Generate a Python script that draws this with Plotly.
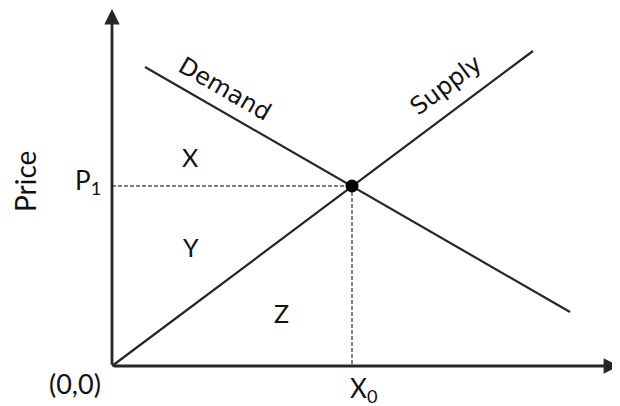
import plotly.graph_objs as go

# data units: 1 unit = 50 px in the target picture, origin at the axis corner
demand_x = [0.66, 9.16]
demand_y = [5.98, 1.08]
supply_x = [0.0, 8.42]
supply_y = [0.0, 6.30]
eq_x = 4.80
eq_y = 3.60
x_range = [-2.08, 10.16]
y_range = [-0.80, 7.16]

region_labels = ["X", "Y", "Z"]
region_x = [1.56, 1.58, 3.38]
region_y = [4.18, 2.38, 1.06]

ink = "#262626"
font_main = "Lato"

fig = go.Figure()

fig.add_trace(go.Scatter(x=demand_x, y=demand_y, mode="lines",
                         line=dict(color=ink, width=2.2)))
fig.add_trace(go.Scatter(x=supply_x, y=supply_y, mode="lines",
                         line=dict(color=ink, width=2.2)))

# dashed guides to the axes
fig.add_trace(go.Scatter(x=[0, eq_x], y=[eq_y, eq_y], mode="lines",
                         line=dict(color="#555555", width=1.5, dash="4px,2px")))
fig.add_trace(go.Scatter(x=[eq_x, eq_x], y=[eq_y, 0], mode="lines",
                         line=dict(color="#555555", width=1.5, dash="4px,2px")))

fig.add_trace(go.Scatter(x=[eq_x], y=[eq_y], mode="markers",
                         marker=dict(color="black", size=13)))

annotations = []
# axes with arrow heads
annotations.append(dict(x=x_range[1] - 0.02, y=0, ax=0, ay=0, xref="x", yref="y", axref="x", ayref="y",
                        text="", showarrow=True, arrowhead=2, arrowsize=1.1,
                        arrowwidth=2.8, arrowcolor=ink))
annotations.append(dict(x=0, y=y_range[1] - 0.02, ax=0, ay=0, xref="x", yref="y", axref="x", ayref="y",
                        text="", showarrow=True, arrowhead=2, arrowsize=1.1,
                        arrowwidth=2.8, arrowcolor=ink))

for lab, lx, ly in zip(region_labels, region_x, region_y):
    annotations.append(dict(x=lx, y=ly, text=lab, showarrow=False,
                            font=dict(family=font_main, size=25, color="#111")))

annotations.append(dict(x=2.26, y=5.54, text="Demand", textangle=30, showarrow=False,
                        font=dict(family="DejaVu Sans", size=24, color="#111")))
annotations.append(dict(x=6.68, y=5.62, text="Supply", textangle=-37, showarrow=False,
                        font=dict(family="DejaVu Sans", size=24, color="#111")))

annotations.append(dict(x=-0.18, y=eq_y, text="P<sub>1</sub>", showarrow=False,
                        xanchor="right", yshift=5,
                        font=dict(family=font_main, size=26, color="#111")))
annotations.append(dict(x=eq_x + 0.22, y=-0.46, text="X<sub>0</sub>", showarrow=False,
                        font=dict(family=font_main, size=26, color="#111")))
annotations.append(dict(x=-0.74, y=-0.34, text="(0,0)", showarrow=False,
                        font=dict(family=font_main, size=27, color="#111")))
annotations.append(dict(x=-1.74, y=3.68, text="Price", textangle=-90, showarrow=False,
                        font=dict(family=font_main, size=28, color="#111")))

# page body adds an 8px margin, so the figure is 8px smaller on each side
fig.update_layout(
    width=612,
    height=398,
    margin=dict(l=0, r=0, t=0, b=0),
    paper_bgcolor="white",
    plot_bgcolor="white",
    showlegend=False,
    xaxis=dict(range=x_range, visible=False, fixedrange=True),
    yaxis=dict(range=y_range, visible=False, fixedrange=True),
    annotations=annotations,
)

fig.write_html("out.html")
